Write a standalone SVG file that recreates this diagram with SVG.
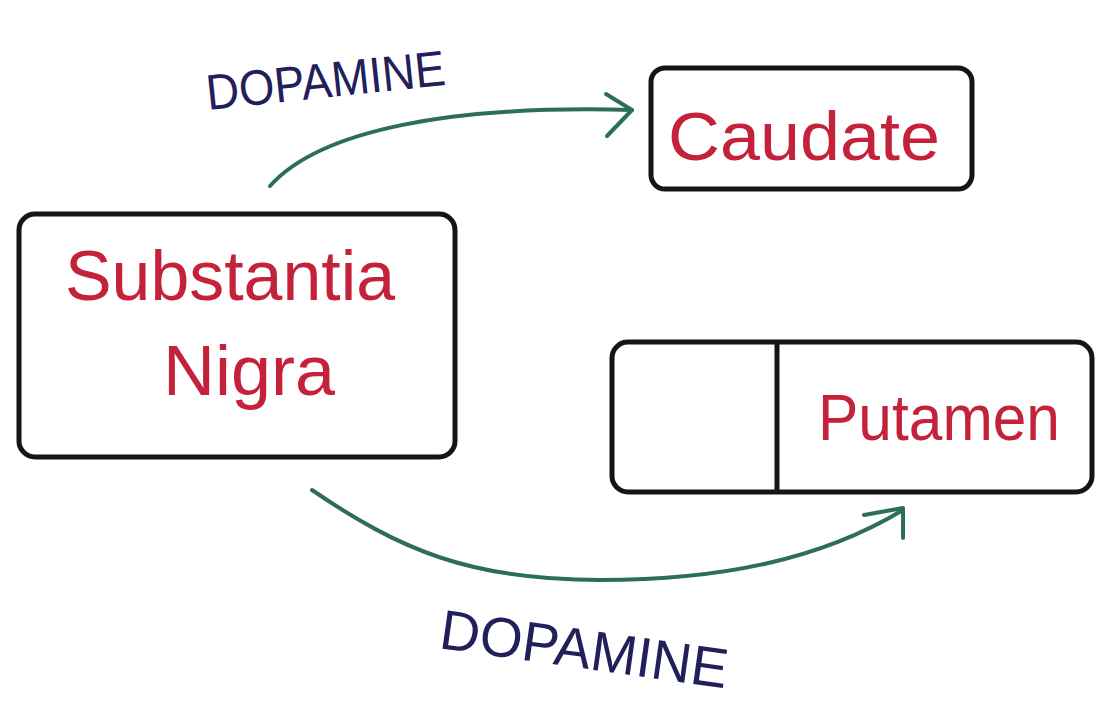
<svg xmlns="http://www.w3.org/2000/svg" width="1095" height="706" viewBox="0 0 1095 706">
<style>
.box{fill:none;stroke:#151515;stroke-width:5;stroke-linejoin:round}
.lbl{fill:#c4223a;font-family:"Liberation Sans",Arial,sans-serif;font-weight:normal}
.dop{fill:#22205a;font-family:"Liberation Sans",Arial,sans-serif}
.conn{fill:none;stroke:#2d6e5a;stroke-width:4;stroke-linecap:round;stroke-linejoin:round}
</style>
<rect width="1095" height="706" fill="#ffffff"/>
<g id="caudate">
<rect class="box" x="651" y="68" width="321" height="121" rx="14"/>
<text class="lbl" x="668" y="160" font-size="68" textLength="272" lengthAdjust="spacingAndGlyphs">Caudate</text>
</g>
<g id="substantia-nigra">
<rect class="box" x="19" y="214" width="436" height="243" rx="16"/>
<text class="lbl" x="65" y="300" font-size="70" textLength="330" lengthAdjust="spacingAndGlyphs">Substantia</text>
<text class="lbl" x="163" y="395" font-size="70" textLength="172" lengthAdjust="spacingAndGlyphs">Nigra</text>
</g>
<g id="putamen">
<rect class="box" x="612" y="342" width="480" height="150" rx="16"/>
<line class="box" x1="777" y1="342" x2="777" y2="492"/>
<text class="lbl" x="818" y="440" font-size="64" textLength="242" lengthAdjust="spacingAndGlyphs">Putamen</text>
</g>
<g id="connectors">
<path class="conn" d="M270 186 C320 130 450 105 632 110"/>
<path class="conn" d="M606 94 L632 110 L607 136"/>
<path class="conn" d="M312 490 C400 550 470 580 600 580 C720 580 820 560 903 510"/>
<path class="conn" d="M864 515 L903 508 L903 538"/>
</g>
<g id="labels">
<text class="dop" x="0" y="0" font-size="50" textLength="240" lengthAdjust="spacingAndGlyphs" transform="translate(208 110) rotate(-6)">DOPAMINE</text>
<text class="dop" x="0" y="0" font-size="56" textLength="290" lengthAdjust="spacingAndGlyphs" transform="translate(438 648) rotate(8)">DOPAMINE</text>
</g>
</svg>
